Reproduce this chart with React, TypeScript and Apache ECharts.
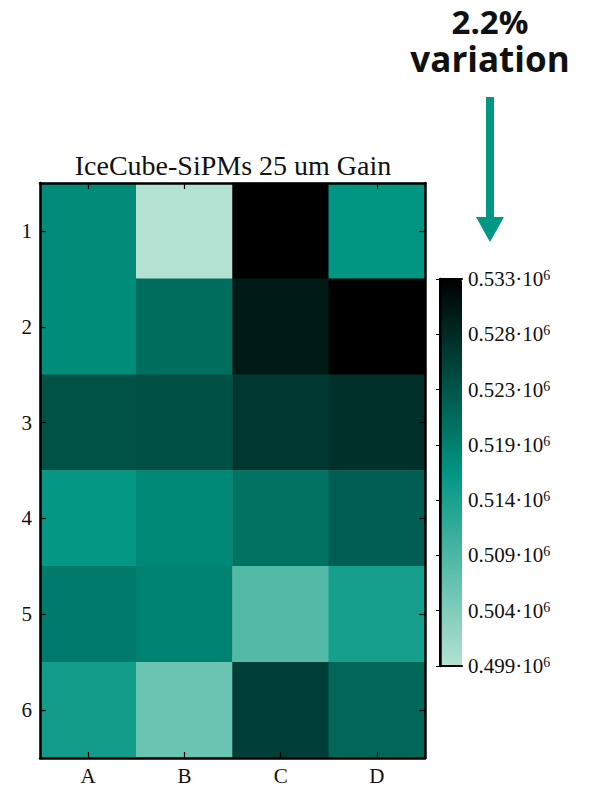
import React, { useEffect, useRef } from 'react';
import * as echarts from 'echarts';

// Sensor grid: columns A–D, rows 1–6 (row 1 at the top)
const columns = ['A', 'B', 'C', 'D'];
const rows = ['1', '2', '3', '4', '5', '6'];

// Measured gain per SiPM, one array per row, columns A–D
const gainRow1 = [517200, 499000, 533160, 516080];
const gainRow2 = [517100, 520620, 530190, 533160];
const gainRow3 = [523830, 524040, 526910, 527690];
const gainRow4 = [515740, 517650, 520110, 522370];
const gainRow5 = [519220, 518330, 508020, 513960];
const gainRow6 = [514440, 505900, 525990, 521480];
const gainRows = [gainRow1, gainRow2, gainRow3, gainRow4, gainRow5, gainRow6];

// Colour scale range and its tick spacing
const gainMin = 499000;
const gainMax = 533160;
const gainTickStep = 4880;
const rampColors = ['#b3e2d3', '#009682', '#000000'];

const annotationTop = '2.2%';
const annotationBottom = 'variation';
const chartTitle = 'IceCube-SiPMs 25 um Gain';

const serif = '"Liberation Serif", "DejaVu Serif", serif';
const sans = '"Open Sans", "Noto Sans", sans-serif';
const ink = '#111111';
const arrowColor = '#009882';

export default function App() {
  const ref = useRef<HTMLDivElement>(null);

  useEffect(() => {
    if (!ref.current) return;
    const chart = echarts.init(ref.current, undefined, { renderer: 'svg' });

    const cells: [number, number, number][] = [];
    gainRows.forEach((row, r) => {
      row.forEach((v, c) => cells.push([c, r, v]));
    });

    const frameLine = { show: true, lineStyle: { color: '#000', width: 2.5 } };
    const innerTick = { show: true, inside: true, length: 6, alignWithLabel: true, lineStyle: { color: '#000', width: 1.2 } };

    chart.setOption({
      animation: false,
      backgroundColor: '#ffffff',
      title: {
        text: chartTitle,
        left: 228,
        top: 146,
        textAlign: 'center',
        textStyle: { fontFamily: serif, fontWeight: 'normal', fontSize: 28, color: ink },
      },
      grid: [
        { left: 40, top: 183, width: 385, height: 575 },
        { left: 440, top: 279, width: 22, height: 387 },
      ],
      xAxis: [
        {
          type: 'category', gridIndex: 0, data: columns, position: 'bottom', z: 5,
          axisLine: frameLine, axisTick: innerTick,
          axisLabel: { fontFamily: serif, fontSize: 21, color: ink, margin: 7 },
          splitLine: { show: false },
        },
        {
          type: 'category', gridIndex: 0, data: columns, position: 'top', z: 5,
          axisLine: frameLine, axisTick: innerTick, axisLabel: { show: false },
          splitLine: { show: false },
        },
        {
          type: 'value', gridIndex: 1, min: 0, max: 1, position: 'bottom', z: 5,
          axisLine: { show: true, lineStyle: { color: '#000', width: 2 } },
          axisTick: { show: false }, axisLabel: { show: false }, splitLine: { show: false },
        },
        {
          type: 'value', gridIndex: 1, min: 0, max: 1, position: 'top', z: 5,
          axisLine: { show: true, lineStyle: { color: '#000', width: 2 } },
          axisTick: { show: false }, axisLabel: { show: false }, splitLine: { show: false },
        },
      ],
      yAxis: [
        {
          type: 'category', gridIndex: 0, data: rows, inverse: true, position: 'left', z: 5,
          axisLine: frameLine, axisTick: innerTick,
          axisLabel: { fontFamily: serif, fontSize: 21, color: ink, margin: 8 },
          splitLine: { show: false },
        },
        {
          type: 'category', gridIndex: 0, data: rows, inverse: true, position: 'right', z: 5,
          axisLine: frameLine, axisTick: innerTick, axisLabel: { show: false },
          splitLine: { show: false },
        },
        {
          type: 'value', gridIndex: 1, min: gainMin, max: gainMax, position: 'left', z: 5,
          axisLine: { show: true, lineStyle: { color: '#000', width: 2 } },
          axisTick: { show: false }, axisLabel: { show: false }, splitLine: { show: false },
        },
        {
          type: 'value', gridIndex: 1, min: gainMin, max: gainMax, interval: gainTickStep,
          position: 'right', z: 5,
          axisLine: { show: true, lineStyle: { color: '#000', width: 2.5 } },
          axisTick: { show: true, inside: true, length: 4, lineStyle: { color: '#000', width: 1 } },
          splitLine: { show: false },
          axisLabel: {
            margin: 6,
            formatter: (v: number) => `{m|${(v / 1e6).toFixed(3)}·10}{s|6}`,
            rich: {
              m: { fontFamily: serif, fontSize: 21, color: ink },
              s: { fontFamily: serif, fontSize: 14, color: ink, verticalAlign: 'top' },
            },
          },
        },
      ],
      visualMap: {
        type: 'continuous',
        min: gainMin,
        max: gainMax,
        seriesIndex: 0,
        calculable: false,
        orient: 'vertical',
        left: 440,
        top: 279,
        itemWidth: 22,
        itemHeight: 387,
        padding: 0,
        text: null,
        inRange: { color: rampColors },
      },
      graphic: [
        {
          type: 'text',
          x: 490,
          y: 5,
          style: {
            text: annotationTop,
            fontFamily: sans,
            fontWeight: 'bold',
            fontSize: 33,
            lineHeight: 33,
            fill: '#111',
            textAlign: 'center',
          },
        },
        {
          type: 'text',
          x: 490,
          y: 42,
          style: {
            text: annotationBottom,
            fontFamily: sans,
            fontWeight: 'bold',
            fontSize: 35,
            lineHeight: 33,
            fill: '#111',
            textAlign: 'center',
          },
        },
        { type: 'rect', shape: { x: 486, y: 97, width: 8, height: 121 }, style: { fill: arrowColor } },
        { type: 'polygon', shape: { points: [[476, 217], [504, 217], [490, 242]] }, style: { fill: arrowColor } },
      ],
      series: [
        {
          type: 'heatmap',
          xAxisIndex: 0,
          yAxisIndex: 0,
          data: cells,
          itemStyle: { borderWidth: 0 },
          emphasis: { disabled: true },
        },
      ],
    });

    return () => chart.dispose();
  }, []);

  return <div ref={ref} style={{ position: 'fixed', left: 0, top: 0, width: 590, height: 792 }} />;
}
